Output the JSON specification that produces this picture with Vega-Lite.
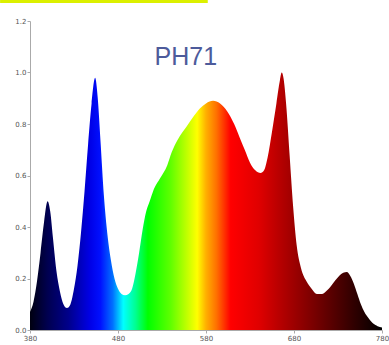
{
  "$schema": "https://vega.github.io/schema/vega-lite/v6.json",
  "width": 352,
  "height": 309,
  "autosize": "none",
  "padding": {"left": 30, "top": 21, "right": 7, "bottom": 15},
  "background": "white",
  "config": {"view": {"stroke": null}},
  "datasets": {
    "spectrum": [
      {"wl": 380, "v": 0.07}, {"wl": 384, "v": 0.11}, {"wl": 388, "v": 0.19}, {"wl": 392, "v": 0.3},
      {"wl": 396, "v": 0.42}, {"wl": 400, "v": 0.5}, {"wl": 403, "v": 0.46}, {"wl": 406, "v": 0.36},
      {"wl": 410, "v": 0.23}, {"wl": 414, "v": 0.15}, {"wl": 418, "v": 0.1}, {"wl": 422, "v": 0.085},
      {"wl": 426, "v": 0.1}, {"wl": 430, "v": 0.16}, {"wl": 434, "v": 0.25}, {"wl": 438, "v": 0.38},
      {"wl": 442, "v": 0.54}, {"wl": 446, "v": 0.72}, {"wl": 450, "v": 0.88}, {"wl": 454, "v": 0.98},
      {"wl": 457, "v": 0.9}, {"wl": 460, "v": 0.74}, {"wl": 464, "v": 0.52}, {"wl": 468, "v": 0.37},
      {"wl": 472, "v": 0.27}, {"wl": 476, "v": 0.2}, {"wl": 480, "v": 0.16}, {"wl": 484, "v": 0.14},
      {"wl": 488, "v": 0.135}, {"wl": 492, "v": 0.14}, {"wl": 496, "v": 0.16}, {"wl": 500, "v": 0.22},
      {"wl": 504, "v": 0.3}, {"wl": 508, "v": 0.39}, {"wl": 512, "v": 0.46}, {"wl": 516, "v": 0.5},
      {"wl": 520, "v": 0.54}, {"wl": 528, "v": 0.59}, {"wl": 536, "v": 0.64}, {"wl": 541, "v": 0.69},
      {"wl": 548, "v": 0.74}, {"wl": 558, "v": 0.79}, {"wl": 566, "v": 0.83}, {"wl": 573, "v": 0.86},
      {"wl": 580, "v": 0.88}, {"wl": 588, "v": 0.89}, {"wl": 596, "v": 0.88}, {"wl": 604, "v": 0.85},
      {"wl": 612, "v": 0.8}, {"wl": 618, "v": 0.75}, {"wl": 624, "v": 0.7}, {"wl": 630, "v": 0.65},
      {"wl": 636, "v": 0.62}, {"wl": 642, "v": 0.61}, {"wl": 646, "v": 0.62}, {"wl": 650, "v": 0.67},
      {"wl": 655, "v": 0.77}, {"wl": 660, "v": 0.88}, {"wl": 664, "v": 0.97}, {"wl": 666, "v": 1.0},
      {"wl": 668, "v": 0.98}, {"wl": 671, "v": 0.88}, {"wl": 675, "v": 0.68}, {"wl": 679, "v": 0.48},
      {"wl": 683, "v": 0.33}, {"wl": 688, "v": 0.24}, {"wl": 694, "v": 0.19}, {"wl": 700, "v": 0.16},
      {"wl": 706, "v": 0.14}, {"wl": 712, "v": 0.14}, {"wl": 718, "v": 0.155}, {"wl": 724, "v": 0.18},
      {"wl": 730, "v": 0.205}, {"wl": 736, "v": 0.222}, {"wl": 740, "v": 0.225}, {"wl": 744, "v": 0.21},
      {"wl": 748, "v": 0.18}, {"wl": 752, "v": 0.14}, {"wl": 756, "v": 0.1}, {"wl": 760, "v": 0.07},
      {"wl": 765, "v": 0.045}, {"wl": 770, "v": 0.025}, {"wl": 775, "v": 0.015}, {"wl": 780, "v": 0.01}
    ],
    "label": [{"wl": 557, "v": 1.029, "text": "PH71"}],
    "band": [{"wl": 346, "wl2": 582, "v": 1.27, "v2": 1.282}]
  },
  "layer": [
    {
      "data": {"name": "spectrum"},
      "mark": {
        "type": "area",
        "interpolate": "monotone",
        "color": {
          "gradient": "linear",
          "x1": 0, "x2": 1, "y1": 0, "y2": 0,
          "stops": [
            {"offset": 0.0, "color": "#000010"},
            {"offset": 0.05, "color": "#000050"},
            {"offset": 0.11, "color": "#00008c"},
            {"offset": 0.17, "color": "#0000e6"},
            {"offset": 0.2, "color": "#0010ff"},
            {"offset": 0.235, "color": "#0070ff"},
            {"offset": 0.265, "color": "#00ffff"},
            {"offset": 0.3, "color": "#00ff90"},
            {"offset": 0.335, "color": "#00ff00"},
            {"offset": 0.4, "color": "#60ff00"},
            {"offset": 0.475, "color": "#ffff00"},
            {"offset": 0.5, "color": "#ffb000"},
            {"offset": 0.53, "color": "#ff7000"},
            {"offset": 0.57, "color": "#ff0000"},
            {"offset": 0.65, "color": "#e00000"},
            {"offset": 0.72, "color": "#b00000"},
            {"offset": 0.82, "color": "#700000"},
            {"offset": 0.92, "color": "#300000"},
            {"offset": 1.0, "color": "#000000"}
          ]
        }
      },
      "encoding": {
        "x": {
          "field": "wl", "type": "quantitative",
          "scale": {"domain": [380, 780], "nice": false, "zero": false},
          "axis": {
            "values": [380, 480, 580, 680, 780], "title": null, "grid": false,
            "labelFont": "DejaVu Sans", "labelFontSize": 7, "labelColor": "#555",
            "tickSize": 3, "tickColor": "#aaa", "domainColor": "#aaa", "labelPadding": 1,
            "labelFlush": false
          }
        },
        "y": {
          "field": "v", "type": "quantitative",
          "scale": {"domain": [0, 1.2], "nice": false},
          "axis": {
            "values": [0, 0.2, 0.4, 0.6, 0.8, 1.0, 1.2], "format": ".1f", "title": null, "grid": false,
            "labelFont": "DejaVu Sans", "labelFontSize": 7, "labelColor": "#555",
            "tickSize": 3, "tickColor": "#aaa", "domainColor": "#aaa", "labelPadding": 1,
            "labelFlush": false
          }
        }
      }
    },
    {
      "data": {"name": "label"},
      "mark": {"type": "text", "font": "Liberation Sans", "fontSize": 25, "color": "#4d5b9b", "align": "center", "baseline": "alphabetic"},
      "encoding": {
        "x": {"field": "wl", "type": "quantitative"},
        "y": {"field": "v", "type": "quantitative"},
        "text": {"field": "text"}
      }
    },
    {
      "data": {"name": "band"},
      "mark": {"type": "rect", "color": "#dcf000", "clip": false},
      "encoding": {
        "x": {"field": "wl", "type": "quantitative"},
        "x2": {"field": "wl2"},
        "y": {"field": "v", "type": "quantitative"},
        "y2": {"field": "v2"}
      }
    }
  ]
}
